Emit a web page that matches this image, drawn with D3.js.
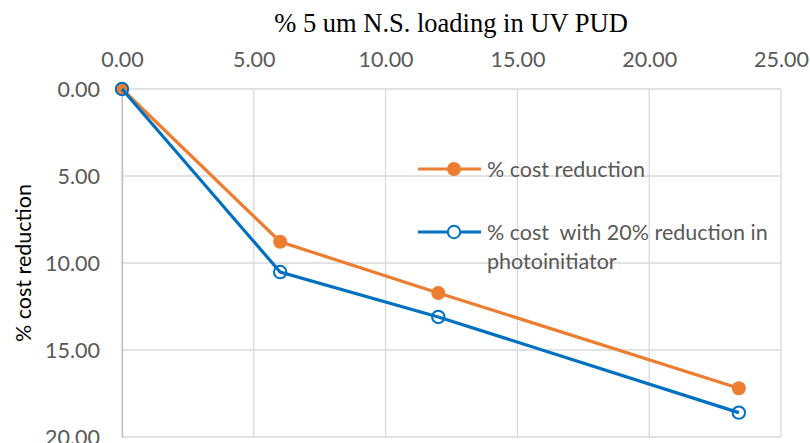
<!DOCTYPE html>
<html>
<head>
<script src="https://d3js.org/d3.v7.min.js"></script>
<style>
    body { margin: 0; background: #fff; }
    .tick text { fill: #595959; font-family: Lato, "Open Sans", sans-serif; font-size: 21.5px; }
    .grid line { stroke: #d9d9d9; stroke-width: 1.3; }
    .legend text { fill: #595959; font-family: Lato, "Open Sans", sans-serif; font-size: 21.5px; }
</style>
</head>
<body>
<svg width="810" height="443"></svg>
<script>
// data
var loading = [0, 6.0, 12.0, 23.4];
var costReduction = [0, 8.78, 11.72, 17.2];
var costReduction20 = [0, 10.52, 13.1, 18.6];
var xTicks = [0, 5, 10, 15, 20, 25];
var yTicks = [0, 5, 10, 15, 20];
var seriesNames = ["% cost reduction", "% cost  with 20% reduction in", "photoinitiator"];

var svg = d3.select("svg"),
    margin = {top: 89, right: 29, bottom: 6, left: 122},
    width = 810 - margin.left - margin.right,
    height = 443 - margin.top - margin.bottom,
    g = svg.append("g").attr("transform", "translate(" + margin.left + "," + margin.top + ")");

var x = d3.scaleLinear().domain([0, 25]).range([0, width]),
    y = d3.scaleLinear().domain([0, 20]).range([0, height]);

// gridlines
g.append("g").attr("class", "grid")
    .selectAll("line.v").data(xTicks).enter().append("line")
    .attr("x1", d => x(d)).attr("x2", d => x(d))
    .attr("y1", 0).attr("y2", height);
g.append("g").attr("class", "grid")
    .selectAll("line.h").data(yTicks).enter().append("line")
    .attr("x1", 0).attr("x2", width)
    .attr("y1", d => y(d)).attr("y2", d => y(d));

var xAxis = g.append("g")
    .call(d3.axisTop(x).tickValues(xTicks).tickSize(0).tickPadding(22).tickFormat(d3.format(".2f")));
xAxis.select(".domain").remove();

var yAxis = g.append("g")
    .call(d3.axisLeft(y).tickValues(yTicks).tickSize(0).tickPadding(22).tickFormat(d3.format(".2f")));
yAxis.select(".domain").attr("stroke", "#bfbfbf").attr("stroke-width", 1.3);
yAxis.selectAll(".tick text").attr("dy", "0.36em");

// title
svg.append("text")
    .attr("x", 451).attr("y", 32)
    .attr("text-anchor", "middle")
    .style("font-family", "'Liberation Serif', 'Times New Roman', serif")
    .style("font-size", "26.5px")
    .attr("fill", "#000")
    .text("% 5 um N.S. loading in UV PUD");

svg.append("text")
    .attr("transform", "translate(31,263) rotate(-90)")
    .attr("text-anchor", "middle")
    .style("font-family", "Lato, 'Open Sans', sans-serif")
    .style("font-size", "21.5px")
    .attr("fill", "#000")
    .text("% cost reduction");

var line = d3.line().x(d => x(d[0])).y(d => y(d[1]));

var s1 = loading.map((v, i) => [v, costReduction[i]]),
    s2 = loading.map((v, i) => [v, costReduction20[i]]);

g.append("path").datum(s1).attr("d", line)
    .attr("fill", "none").attr("stroke", "#ED7D31").attr("stroke-width", 3.2);
g.selectAll(".m1").data(s1).enter().append("circle")
    .attr("cx", d => x(d[0])).attr("cy", d => y(d[1])).attr("r", 7)
    .attr("fill", "#ED7D31");

g.append("path").datum(s2).attr("d", line)
    .attr("fill", "none").attr("stroke", "#0070C0").attr("stroke-width", 3.2);
g.selectAll(".m2").data(s2).enter().append("circle")
    .attr("cx", d => x(d[0])).attr("cy", d => y(d[1])).attr("r", 6.2)
    .attr("fill", "none").attr("stroke", "#0070C0").attr("stroke-width", 2);

// legend
var leg = svg.append("g").attr("class", "legend");
leg.append("line").attr("x1", 418).attr("x2", 481).attr("y1", 169).attr("y2", 169)
    .attr("stroke", "#ED7D31").attr("stroke-width", 3.2);
leg.append("circle").attr("cx", 454).attr("cy", 169).attr("r", 7).attr("fill", "#ED7D31");
leg.append("text").attr("x", 487).attr("y", 177).text(seriesNames[0]);

leg.append("line").attr("x1", 418).attr("x2", 481).attr("y1", 232).attr("y2", 232)
    .attr("stroke", "#0070C0").attr("stroke-width", 3.2);
leg.append("circle").attr("cx", 454).attr("cy", 232).attr("r", 6.2)
    .attr("fill", "#fff").attr("stroke", "#0070C0").attr("stroke-width", 2);
leg.append("text").attr("x", 487).attr("y", 240).attr("xml:space", "preserve").style("white-space", "pre").text(seriesNames[1]);
leg.append("text").attr("x", 487).attr("y", 269).text(seriesNames[2]);
</script>
</body>
</html>
